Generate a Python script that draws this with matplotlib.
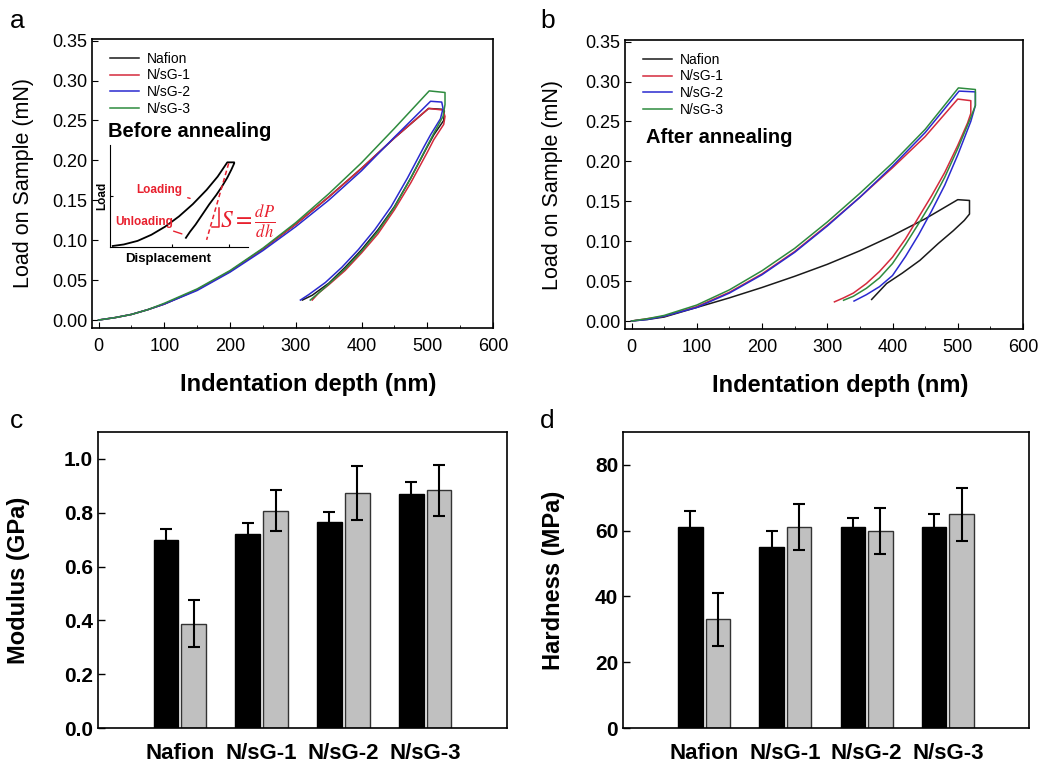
import numpy as np
import matplotlib
matplotlib.use("Agg")
import matplotlib.pyplot as plt
from matplotlib.ticker import MultipleLocator

plt.rcParams['font.family'] = ['Liberation Sans', 'DejaVu Sans']

SERIES = ["Nafion", "N/sG-1", "N/sG-2", "N/sG-3"]
COLORS = ["#1a1a1a", "#d42a3c", "#2a2ad0", "#2e8b3e"]

# ---- panel a: before annealing (depth nm, load mN) ----
a_depth = [
    [0, 25, 50, 75, 100, 150, 200, 250, 300, 350, 400, 450, 502, 522,
     526, 525, 510, 500, 475, 450, 425, 400, 375, 350, 325, 310],
    [0, 25, 50, 75, 100, 150, 200, 250, 300, 350, 400, 450, 502, 524,
     527, 525, 510, 500, 475, 450, 425, 400, 375, 350, 335, 325],
    [0, 25, 50, 75, 100, 150, 200, 250, 300, 350, 400, 450, 505, 522,
     524, 520, 505, 495, 470, 445, 420, 395, 370, 345, 320, 307],
    [0, 25, 50, 75, 100, 150, 200, 250, 300, 350, 400, 450, 503, 527,
     527, 524, 510, 500, 475, 450, 425, 400, 375, 350, 335, 322],
]
a_load = [
    [0, 0.003, 0.007, 0.013, 0.020, 0.038, 0.061, 0.089, 0.120, 0.154, 0.190, 0.228, 0.265, 0.264,
     0.262, 0.250, 0.232, 0.217, 0.178, 0.142, 0.113, 0.088, 0.066, 0.046, 0.031, 0.025],
    [0, 0.003, 0.007, 0.013, 0.020, 0.038, 0.061, 0.089, 0.120, 0.154, 0.190, 0.228, 0.265, 0.263,
     0.255, 0.245, 0.226, 0.210, 0.172, 0.138, 0.108, 0.084, 0.062, 0.044, 0.034, 0.025],
    [0, 0.003, 0.007, 0.013, 0.020, 0.037, 0.060, 0.087, 0.117, 0.150, 0.187, 0.229, 0.274, 0.273,
     0.265, 0.252, 0.232, 0.217, 0.178, 0.142, 0.113, 0.088, 0.066, 0.047, 0.032, 0.025],
    [0, 0.003, 0.007, 0.013, 0.021, 0.039, 0.062, 0.090, 0.122, 0.158, 0.197, 0.240, 0.287, 0.285,
     0.270, 0.255, 0.234, 0.218, 0.178, 0.141, 0.111, 0.086, 0.064, 0.045, 0.034, 0.025],
]

# ---- panel b: after annealing ----
b_depth = [
    [0, 25, 50, 100, 150, 200, 250, 300, 350, 400, 450, 500, 518,
     518, 510, 493, 470, 442, 415, 391, 368],
    [0, 25, 50, 100, 150, 200, 250, 300, 350, 400, 450, 500, 520,
     520, 515, 500, 480, 460, 440, 420, 400, 380, 360, 340, 325, 311],
    [0, 25, 50, 100, 150, 200, 250, 300, 350, 400, 450, 502, 527,
     527, 520, 500, 480, 460, 440, 420, 400, 380, 360, 341],
    [0, 25, 50, 100, 150, 200, 250, 300, 350, 400, 450, 501, 527,
     527, 520, 500, 480, 460, 440, 420, 400, 380, 360, 340, 325],
]
b_load = [
    [0, 0.002, 0.005, 0.017, 0.029, 0.042, 0.056, 0.071, 0.088, 0.107, 0.128, 0.152, 0.151,
     0.134, 0.126, 0.113, 0.097, 0.076, 0.060, 0.047, 0.027],
    [0, 0.003, 0.006, 0.018, 0.036, 0.059, 0.087, 0.120, 0.155, 0.192, 0.231, 0.278, 0.276,
     0.260, 0.248, 0.220, 0.186, 0.157, 0.130, 0.103, 0.080, 0.062, 0.047, 0.035, 0.029, 0.024],
    [0, 0.002, 0.006, 0.017, 0.035, 0.058, 0.086, 0.119, 0.155, 0.194, 0.236, 0.288, 0.287,
     0.270, 0.250, 0.208, 0.170, 0.138, 0.108, 0.081, 0.057, 0.043, 0.033, 0.025],
    [0, 0.003, 0.007, 0.020, 0.039, 0.063, 0.091, 0.124, 0.160, 0.198, 0.240, 0.292, 0.290,
     0.270, 0.255, 0.216, 0.180, 0.149, 0.122, 0.096, 0.072, 0.054, 0.041, 0.031, 0.026],
]

# ---- inset schematic (normalised units) ----
inset_x = [0.02, 0.1, 0.2, 0.3, 0.4, 0.5, 0.6, 0.7, 0.78, 0.85, 0.9,
           0.9, 0.88, 0.85, 0.81, 0.77, 0.72, 0.67, 0.62, 0.58, 0.55]
inset_y = [0.01, 0.025, 0.06, 0.12, 0.2, 0.3, 0.42, 0.56, 0.69, 0.83, 0.83,
           0.82, 0.76, 0.68, 0.59, 0.51, 0.42, 0.32, 0.22, 0.15, 0.09]

# ---- panels c, d ----
groups = ["Nafion", "N/sG-1", "N/sG-2", "N/sG-3"]
mod_before = [0.70, 0.72, 0.765, 0.868]
mod_before_err = [0.04, 0.04, 0.036, 0.045]
mod_after = [0.387, 0.808, 0.874, 0.883]
mod_after_err = [0.087, 0.075, 0.100, 0.095]
hard_before = [61, 55, 61, 61]
hard_before_err = [5, 5, 3, 4]
hard_after = [33, 61, 60, 65]
hard_after_err = [8, 7, 7, 8]

W, H = 1045, 765
fig = plt.figure(figsize=(W / 100, H / 100), dpi=100)


def px_axes(left, top, right, bottom):
    return fig.add_axes([left / W, 1 - bottom / H, (right - left) / W, (bottom - top) / H])


def curve_panel(ax, depth, load, note, ylab_x):
    for d, l, c, name in zip(depth, load, COLORS, SERIES):
        ax.plot(d, l, color=c, lw=1.1, label=name)
    ax.set_xlim(-10, 600)
    ax.set_ylim(-0.01, 0.352)
    ax.xaxis.set_major_locator(MultipleLocator(100))
    ax.xaxis.set_minor_locator(MultipleLocator(50))
    ax.yaxis.set_major_locator(MultipleLocator(0.05))
    ax.yaxis.set_major_formatter(plt.FormatStrFormatter('%.2f'))
    ax.tick_params(direction='in', labelsize=13, length=4, width=0.8)
    ax.tick_params(axis='x', pad=7)
    ax.tick_params(which='minor', direction='in', length=2.5)
    for s in ax.spines.values():
        s.set_linewidth(1.2)
    ax.set_ylabel("Load on Sample (mN)", fontsize=15.5)
    ax.yaxis.set_label_coords(ylab_x, 0.5)
    ax.set_xlabel("Indentation depth (nm)", fontsize=17, fontweight='bold')
    ax.xaxis.set_label_coords(0.54, -0.155)
    ax.legend(loc='upper left', frameon=False, fontsize=10, handlelength=2.1,
              handletextpad=0.6, labelspacing=0.2, borderaxespad=0.3,
              bbox_to_anchor=(0.02, 0.99))
    ax.text(note[0], note[1], note[2], fontsize=14.5, fontweight='bold', va='center')


ax_a = px_axes(92, 39, 493, 328)
curve_panel(ax_a, a_depth, a_load, (14, 0.236, "Before annealing"), -0.145)
ax_b = px_axes(625, 40, 1023, 329)
curve_panel(ax_b, b_depth, b_load, (22, 0.23, "After annealing"), -0.155)

# inset
ins = px_axes(110, 145, 248, 247)
ins.plot(inset_x, inset_y, color='black', lw=1.3)
ins.set_xlim(0, 1)
ins.set_ylim(0, 1)
ins.spines['top'].set_visible(False)
ins.spines['right'].set_visible(False)
ins.set_xticks([0.45, 0.86])
ins.set_yticks([0.5])
ins.tick_params(direction='in', length=2, labelbottom=False, labelleft=False)
ins.patch.set_alpha(0)
ins.set_ylabel("Load", fontsize=8.5, fontweight='bold', labelpad=1)
ins.set_xlabel("Displacement", fontsize=9.5, fontweight='bold', labelpad=2)
ins.xaxis.set_label_coords(0.42, -0.06)
red = '#e8202e'
ins.plot([0.86, 0.70], [0.82, 0.07], color=red, lw=1.1, ls=(0, (3, 2)), clip_on=False)
ins.plot([0.74, 0.79, 0.79], [0.20, 0.20, 0.38], color=red, lw=1.1, clip_on=False)
ins.annotate("Loading", xy=(0.6, 0.47), xytext=(0.19, 0.555), color=red, fontsize=8.5,
             fontweight='bold', va='center',
             arrowprops=dict(arrowstyle='-', color=red, lw=1))
ins.annotate("Unloading", xy=(0.54, 0.12), xytext=(0.04, 0.25), color=red, fontsize=8.5,
             fontweight='bold', va='center',
             arrowprops=dict(arrowstyle='-', color=red, lw=1))
ins.text(0.80, 0.25, r'$S=\frac{dP}{dh}$', color=red, fontsize=17, va='center',
         math_fontfamily='stix', clip_on=False)


def bar_panel(ax, before, before_err, after, after_err, ylim, step, ylabel, fmt, ylab_x):
    x = np.arange(len(groups))
    ax.bar(x - 0.17, before, 0.3, color='black', edgecolor='black', lw=1,
           yerr=before_err, capsize=4, error_kw=dict(lw=1.5, capthick=1.5), zorder=2)
    ax.bar(x + 0.17, after, 0.3, color='#c0c0c0', edgecolor='#333333', lw=1,
           yerr=after_err, capsize=4, error_kw=dict(lw=1.5, capthick=1.5), zorder=2)
    ax.set_xlim(-1, 4)
    ax.set_ylim(*ylim)
    ax.set_xticks(x)
    ax.set_xticklabels(groups, fontsize=16, fontweight='bold')
    ax.tick_params(axis='x', length=0, pad=11)
    ax.yaxis.set_major_locator(MultipleLocator(step))
    ax.yaxis.set_major_formatter(plt.FormatStrFormatter(fmt))
    ax.tick_params(axis='y', direction='in', length=5, labelsize=15, width=1)
    for lab in ax.get_yticklabels():
        lab.set_fontweight('bold')
    for s in ax.spines.values():
        s.set_linewidth(1.2)
    ax.set_ylabel(ylabel, fontsize=17, fontweight='bold')
    ax.yaxis.set_label_coords(ylab_x, 0.5)


ax_c = px_axes(98, 432, 507, 728)
bar_panel(ax_c, mod_before, mod_before_err, mod_after, mod_after_err,
          (0, 1.1), 0.2, "Modulus (GPa)", '%.1f', -0.166)
ax_d = px_axes(623, 432, 1029, 728)
bar_panel(ax_d, hard_before, hard_before_err, hard_after, hard_after_err,
          (0, 90), 20, "Hardness (MPa)", '%d', -0.143)

for lab, xx, yy in [("a", 10, 28), ("b", 540, 28), ("c", 10, 428), ("d", 540, 428)]:
    fig.text(xx / W, 1 - yy / H, lab, fontsize=19, va='baseline')

fig.savefig("out.png", dpi=100)
